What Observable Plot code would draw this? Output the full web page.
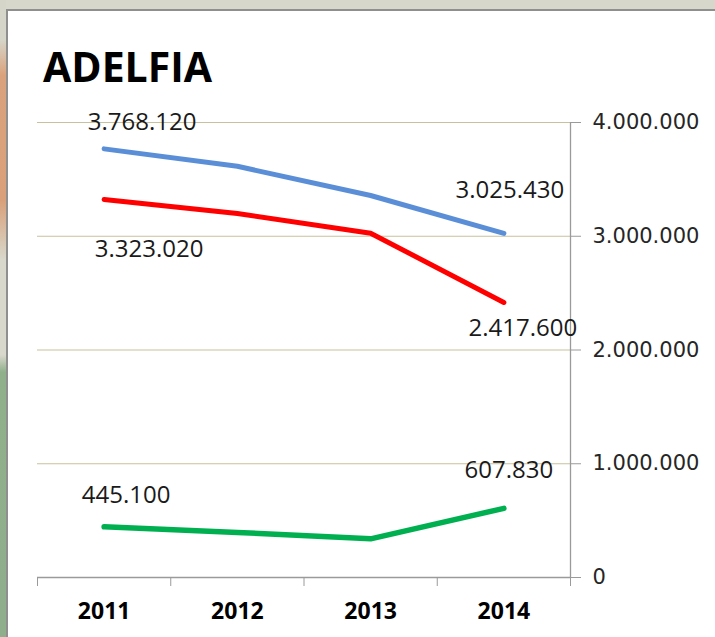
<!DOCTYPE html>
<html>
<head>
<meta charset="utf-8">
<script src="https://cdn.jsdelivr.net/npm/d3@7"></script>
<script src="https://cdn.jsdelivr.net/npm/@observablehq/plot@0.6"></script>
<style>
  body { margin: 0; background: #fff; }
  #wrap { position: relative; width: 715px; height: 637px; background: #fff; overflow: hidden; }
  .deco { position: absolute; }
  #title { position: absolute; left: 43px; top: 46px; font-family: "Open Sans", sans-serif; font-weight: 700; font-size: 41px; line-height: 40px; color: #000; }
  #chart { position: absolute; left: 0; top: 0; }
</style>
</head>
<body>
<div id="wrap">
  <div class="deco" style="left:0;top:0;width:715px;height:9px;background:#d7d7cb"></div>
  <div class="deco" style="left:0;top:9px;width:715px;height:2px;background:#8f8f8f"></div>
  <div class="deco" style="left:0;top:0;width:6px;height:637px;background:linear-gradient(to bottom,#d5d5c9 0px,#d5d5c9 40px,#dba37d 75px,#d9a07a 200px,#d8d8cc 260px,#d8d8cc 355px,#90b08c 372px,#8fae8b 637px)"></div>
  <div class="deco" style="left:6px;top:9px;width:2px;height:628px;background:#8f8f8f"></div>
  <div id="chart"></div>
  <div id="title">ADELFIA</div>
</div>
<script>
const years = [2011, 2012, 2013, 2014];
const blueValues = [3768120, 3615000, 3358000, 3025430];
const redValues = [3323020, 3200000, 3027000, 2417600];
const greenValues = [445100, 396000, 340000, 607830];
const yTicks = [0, 1000000, 2000000, 3000000, 4000000];
const gridValues = [1000000, 2000000, 3000000, 4000000];
const categoryEdges = [2010.5, 2011.5, 2012.5, 2013.5, 2014.5];

const fmt = d3.formatLocale({decimal: ",", thousands: ".", grouping: [3], currency: ["€", ""]}).format(",d");

const toRows = (vals) => years.map((year, i) => ({year, value: vals[i]}));
const blue = toRows(blueValues);
const red = toRows(redValues);
const green = toRows(greenValues);

const BLUE = "#5a8fd8", RED = "#ff0000", GREEN = "#00b050";
const labelFont = {fontFamily: "Open Sans, sans-serif", fontSize: 24, fill: "#1a1a1a"};

function label(rows, idx, dx, dy) {
  return Plot.text([rows[idx]], {x: "year", y: "value", text: d => fmt(d.value), dx, dy, ...labelFont});
}

const chart = Plot.plot({
  width: 715,
  height: 637,
  marginLeft: 37,
  marginRight: 145,
  marginTop: 122,
  marginBottom: 60,
  style: {background: "transparent", overflow: "visible"},
  x: {type: "linear", domain: [2010.5, 2014.5]},
  y: {domain: [0, 4000000]},
  marks: [
    Plot.ruleY(gridValues, {stroke: "#c8c19c", strokeWidth: 1.2}),
    Plot.ruleY([0], {x1: 2010.5, x2: 2014.5, stroke: "#9a9a9a", strokeWidth: 1.3}),
    Plot.ruleX([2014.5], {y1: 0, y2: 4000000, stroke: "#9a9a9a", strokeWidth: 1.3}),
    Plot.axisX({ticks: categoryEdges, tickFormat: () => "", tickSize: 9, stroke: "#9a9a9a", label: null}),
    Plot.axisX({ticks: years, tickFormat: d => String(d), tickSize: 0, tickPadding: 25, fontFamily: "Open Sans, sans-serif", fontWeight: "bold", fontSize: 23, fill: "#000", label: null}),
    Plot.axisY({anchor: "right", ticks: yTicks, tickFormat: fmt, tickSize: 10, tickPadding: 12, stroke: "#9a9a9a", fill: "#262626", fontFamily: "DejaVu Sans, sans-serif", fontSize: 21, label: null}),
    Plot.line(blue, {x: "year", y: "value", stroke: BLUE, strokeWidth: 5, strokeLinecap: "round", strokeLinejoin: "round"}),
    Plot.line(red, {x: "year", y: "value", stroke: RED, strokeWidth: 5, strokeLinecap: "round", strokeLinejoin: "round"}),
    Plot.line(green, {x: "year", y: "value", stroke: GREEN, strokeWidth: 5.5, strokeLinecap: "round", strokeLinejoin: "round"}),
    label(blue, 0, 38, -27),
    label(blue, 3, 6, -43),
    label(red, 0, 45, 50),
    label(red, 3, 19, 26),
    label(green, 0, 22, -32),
    label(green, 3, 5, -38)
  ]
});
document.getElementById("chart").appendChild(chart);
</script>
</body>
</html>
